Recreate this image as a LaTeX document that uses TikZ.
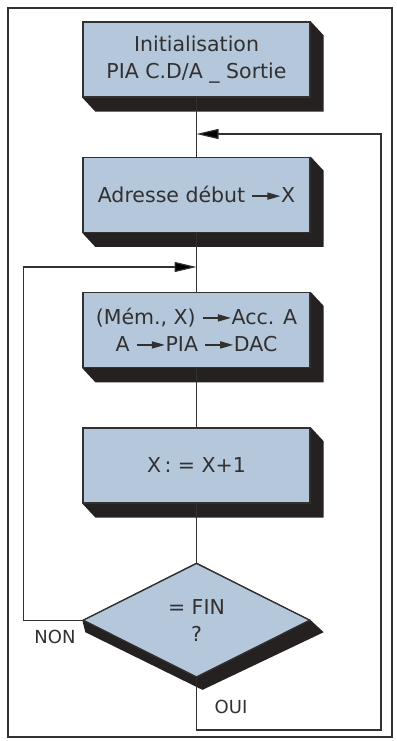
\documentclass[tikz,border=0pt]{standalone}
\usepackage{fontspec}
\setmainfont{DejaVu Sans}
\usetikzlibrary{positioning,arrows.meta,shapes.geometric,backgrounds}
\definecolor{bleu}{RGB}{180,199,219}
\definecolor{ombre}{RGB}{38,33,33}
\definecolor{trait}{RGB}{50,48,48}
% petite fleche dans le texte
\newcommand{\fl}{\tikz[baseline=-0.6ex]\draw[trait,line width=1.4pt,-{Triangle[length=13pt,width=7pt]}] (0,0) -- (28pt,0);}
% ombre portee d'un bloc
\newcommand{\ombrebloc}[1]{\fill[ombre] (#1.north east) -- ++(13,-14) -- ([shift={(13,-14)}]#1.south east) -- ([shift={(13,-14)}]#1.south west) -- (#1.south west) -- cycle;}

\begin{document}
\begin{tikzpicture}[x=1pt,y=1pt,node distance=59pt,
  bloc/.style={draw=trait,fill=bleu,line width=1.3pt,minimum width=227pt,minimum height=75pt,align=center,text=trait,font=\fontsize{20.5}{27}\selectfont},
  test/.style={diamond,draw=trait,fill=bleu,line width=1.3pt,minimum width=227pt,minimum height=114pt,inner sep=0pt,align=center,text=trait,font=\fontsize{20.5}{27}\selectfont},
  etiq/.style={text=trait,font=\fontsize{18}{20}\selectfont},
  lien/.style={draw=trait,line width=1.2pt},
  fleche/.style={lien,-{Triangle[length=22pt,width=10pt]}}]
  \useasboundingbox (0,0) rectangle (396,-741);
  \draw[trait,line width=1.6pt] (8,-8) rectangle (392,-737);
  \node[bloc] (init) at (196.5,-59.5) {Initialisation\\PIA C.D/A \_ Sortie};
  \node[bloc,below=of init] (debut) {Adresse début \fl X};
  \node[bloc,below=of debut] (charge) {(Mém., X) \fl Acc. A\\A \fl PIA \fl DAC};
  \node[bloc,below=of charge] (incr) {X\,: = X+1};
  \node[test,below=of incr] (fin) {= FIN\\?};
  \node[etiq] (non) at (55,-637) {NON};
  \node[etiq] (oui) at (231,-707) {OUI};
  \begin{scope}[on background layer]
    \ombrebloc{init}
    \ombrebloc{debut}
    \ombrebloc{charge}
    \ombrebloc{incr}
    \fill[ombre] (fin.north) -- (fin.east) -- ++(13,-12) -- ([shift={(6,-12)}]fin.south) -- ([shift={(3,-12)}]fin.west) -- (fin.west) -- cycle;
  \end{scope}
  \coordinate (j1) at (196.5,-134);
  \coordinate (j2) at (196.5,-267);
  \coordinate (coin) at (381,-730);
  \draw[lien] (init) -- (debut);
  \draw[lien] (debut) -- (charge);
  \draw[lien] (charge) -- (incr);
  \draw[lien] (incr) -- (fin);
  \draw[fleche] (fin.west) -- ++(-59,0) |- (j2);
  \draw[fleche] (fin.south) |- (coin) |- (j1);
\end{tikzpicture}
\end{document}
